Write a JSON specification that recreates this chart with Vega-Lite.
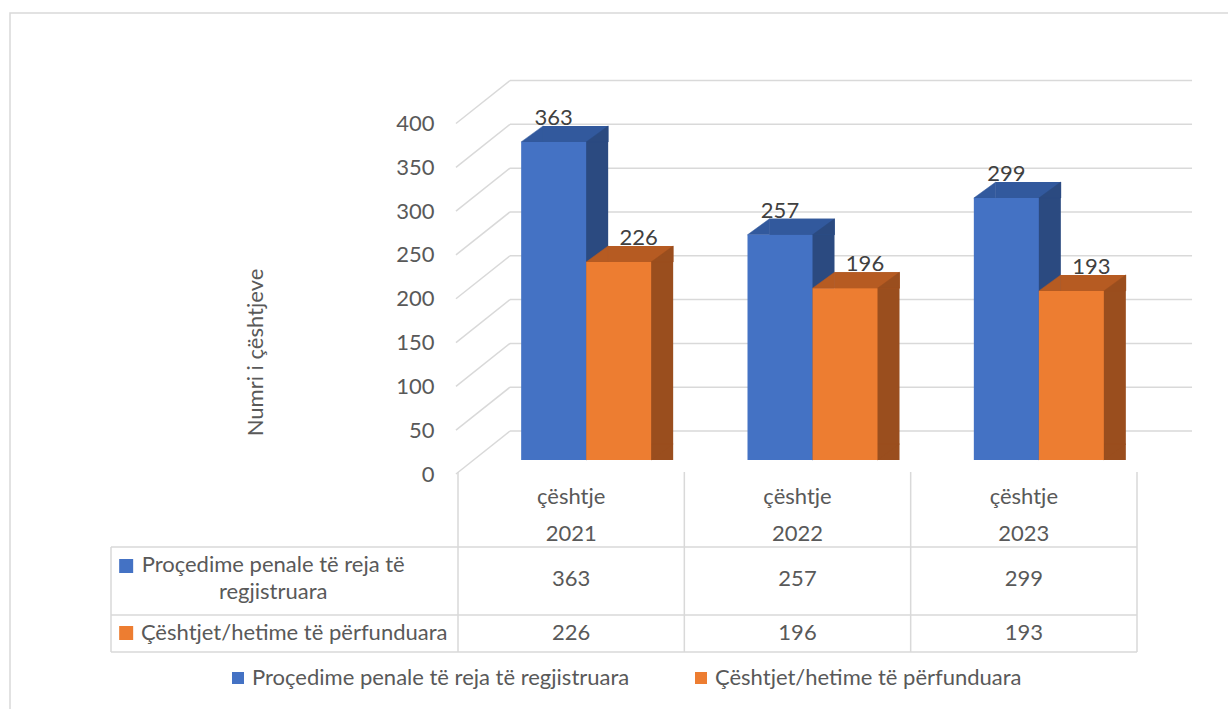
{
  "$schema": "https://vega.github.io/schema/vega-lite/v6.json",
  "width": 1228,
  "height": 720,
  "autosize": {"type": "none"},
  "padding": {"left": 10, "top": 13, "right": 0, "bottom": 0},
  "background": "white",
  "config": {
    "font": "Lato",
    "view": {"stroke": "#D9D9D9", "strokeWidth": 1.5},
    "text": {"font": "Lato", "fontSize": 22, "color": "#595959"}
  },
  "datasets": {
    "bars": [
      {"year": "çështje 2021", "series": "Proçedime penale të reja të regjistruara", "value": 363},
      {"year": "çështje 2021", "series": "Çështjet/hetime të përfunduara", "value": 226},
      {"year": "çështje 2022", "series": "Proçedime penale të reja të regjistruara", "value": 257},
      {"year": "çështje 2022", "series": "Çështjet/hetime të përfunduara", "value": 196},
      {"year": "çështje 2023", "series": "Proçedime penale të reja të regjistruara", "value": 299},
      {"year": "çështje 2023", "series": "Çështjet/hetime të përfunduara", "value": 193}
    ],
    "grid": [{"v": 0}, {"v": 50}, {"v": 100}, {"v": 150}, {"v": 200}, {"v": 250}, {"v": 300}, {"v": 350}, {"v": 400}]
  },
  "resolve": {"scale": {"y": "independent"}},
  "layer": [
    {
      "layer": [
        {
          "data": {"name": "grid"},
          "mark": {"type": "rule", "color": "#D9D9D9", "strokeWidth": 1.5, "xOffset": -61.17, "x2Offset": 168.2, "yOffset": -29},
          "encoding": {
            "x": {"datum": "çështje 2021", "type": "nominal", "axis": null,
                  "scale": {"type": "band", "domain": ["çështje 2021", "çështje 2022", "çështje 2023"], "range": [448, 1127], "paddingInner": 0, "paddingOuter": 0}},
            "x2": {"datum": "çështje 2023"},
            "y": {"field": "v", "type": "quantitative",
                  "scale": {"domain": [0, 400], "range": [447, 96.5], "nice": false, "zero": false},
                  "axis": {"title": "Numri i çështjeve", "offset": -430, "ticks": false, "domain": false, "grid": false,
                           "values": [0, 50, 100, 150, 200, 250, 300, 350, 400],
                           "labelPadding": 6, "labelOffset": 14, "labelFlush": false, "labelOverlap": false,
                           "labelFont": "Lato", "labelFontSize": 22, "labelColor": "#595959",
                           "titleFont": "Lato", "titleFontSize": 22, "titleFontWeight": "normal", "titleColor": "#595959",
                           "titleX": -185, "titleY": 339, "titleAngle": -90, "titleAlign": "center", "titleBaseline": "middle"}}
          }
        },
        {
          "data": {"name": "grid"},
          "mark": {"type": "rule", "color": "#D9D9D9", "strokeWidth": 1.5, "xOffset": -115.2, "x2Offset": -61.17, "yOffset": 14, "y2Offset": -29},
          "encoding": {
            "x": {"datum": "çështje 2021", "type": "nominal", "axis": null},
            "x2": {"datum": "çështje 2021"},
            "y": {"field": "v", "type": "quantitative"},
            "y2": {"field": "v"}
          }
        },
        {
          "data": {"name": "bars"},
          "transform": [{"filter": {"field": "series", "equal": "Proçedime penale të reja të regjistruara"}}],
          "layer": [
            {"mark": {"type": "bar", "width": 65, "xOffset": 4.5, "yOffset": -16, "y2Offset": -16, "color": "#2B4A80"},
             "encoding": {"x": {"field": "year", "type": "nominal", "axis": null}, "y": {"field": "value", "type": "quantitative", "stack": null}}},
            {"mark": {"type": "point", "shape": "M -1 -0.7273 L 1 -0.7273 L -1 0.7273 Z", "size": 484, "filled": true, "opacity": 1, "color": "#2B4A80", "stroke": "#2B4A80", "strokeWidth": 0.5, "xOffset": 26, "yOffset": -8},
             "encoding": {"x": {"field": "year", "type": "nominal", "axis": null}, "y": {"datum": 0, "type": "quantitative"}}},
            {"mark": {"type": "bar", "width": 65, "xOffset": 4.5, "yOffset": -16, "y2Offset": 0, "color": "#32599D"},
             "encoding": {"x": {"field": "year", "type": "nominal", "axis": null}, "y": {"field": "value", "type": "quantitative"}, "y2": {"field": "value"}}},
            {"mark": {"type": "point", "shape": "M -1 0.7273 L 1 -0.7273 L 1 0.7273 Z", "size": 484, "filled": true, "opacity": 1, "color": "#2B4A80", "stroke": "#2B4A80", "strokeWidth": 0.5, "xOffset": 26, "yOffset": -8},
             "encoding": {"x": {"field": "year", "type": "nominal", "axis": null}, "y": {"field": "value", "type": "quantitative"}}},
            {"mark": {"type": "point", "shape": "M -1 0.7273 L 1 -0.7273 L 1 0.7273 Z", "size": 484, "filled": true, "opacity": 1, "color": "#32599D", "stroke": "#32599D", "strokeWidth": 0.5, "xOffset": -39, "yOffset": -8},
             "encoding": {"x": {"field": "year", "type": "nominal", "axis": null}, "y": {"field": "value", "type": "quantitative"}}},
            {"mark": {"type": "bar", "width": 65, "xOffset": -17.5},
             "encoding": {"x": {"field": "year", "type": "nominal", "axis": null}, "y": {"field": "value", "type": "quantitative", "stack": null},
                          "color": {"field": "series", "type": "nominal",
                                    "scale": {"domain": ["Proçedime penale të reja të regjistruara", "Çështjet/hetime të përfunduara"], "range": ["#4472C4", "#ED7D31"]},
                                    "legend": {"orient": "none", "legendX": 217, "legendY": 654, "direction": "horizontal", "title": null,
                                               "symbolType": "square", "symbolSize": 144, "symbolStrokeWidth": 0,
                                               "labelFont": "Lato", "labelFontSize": 22, "labelColor": "#595959", "labelOffset": 3,
                                               "columnPadding": 60, "labelLimit": 600, "padding": 0}}}}
          ]
        },
        {
          "data": {"name": "bars"},
          "transform": [{"filter": {"field": "series", "equal": "Çështjet/hetime të përfunduara"}}],
          "layer": [
            {"mark": {"type": "bar", "width": 65, "xOffset": 69.5, "yOffset": -16, "y2Offset": -16, "color": "#9A4E1E"},
             "encoding": {"x": {"field": "year", "type": "nominal", "axis": null}, "y": {"field": "value", "type": "quantitative", "stack": null}}},
            {"mark": {"type": "point", "shape": "M -1 -0.7273 L 1 -0.7273 L -1 0.7273 Z", "size": 484, "filled": true, "opacity": 1, "color": "#9A4E1E", "stroke": "#9A4E1E", "strokeWidth": 0.5, "xOffset": 91, "yOffset": -8},
             "encoding": {"x": {"field": "year", "type": "nominal", "axis": null}, "y": {"datum": 0, "type": "quantitative"}}},
            {"mark": {"type": "bar", "width": 65, "xOffset": 69.5, "yOffset": -16, "y2Offset": 0, "color": "#B65B22"},
             "encoding": {"x": {"field": "year", "type": "nominal", "axis": null}, "y": {"field": "value", "type": "quantitative"}, "y2": {"field": "value"}}},
            {"mark": {"type": "point", "shape": "M -1 0.7273 L 1 -0.7273 L 1 0.7273 Z", "size": 484, "filled": true, "opacity": 1, "color": "#9A4E1E", "stroke": "#9A4E1E", "strokeWidth": 0.5, "xOffset": 91, "yOffset": -8},
             "encoding": {"x": {"field": "year", "type": "nominal", "axis": null}, "y": {"field": "value", "type": "quantitative"}}},
            {"mark": {"type": "point", "shape": "M -1 0.7273 L 1 -0.7273 L 1 0.7273 Z", "size": 484, "filled": true, "opacity": 1, "color": "#B65B22", "stroke": "#B65B22", "strokeWidth": 0.5, "xOffset": 26, "yOffset": -8},
             "encoding": {"x": {"field": "year", "type": "nominal", "axis": null}, "y": {"field": "value", "type": "quantitative"}}},
            {"mark": {"type": "bar", "width": 65, "xOffset": 47.5},
             "encoding": {"x": {"field": "year", "type": "nominal", "axis": null}, "y": {"field": "value", "type": "quantitative", "stack": null},
                          "color": {"field": "series", "type": "nominal"}}}
          ]
        },
        {
          "data": {"name": "bars"},
          "transform": [{"filter": {"field": "series", "equal": "Proçedime penale të reja të regjistruara"}}],
          "mark": {"type": "text", "xOffset": -17.5, "yOffset": -17, "baseline": "alphabetic", "align": "center", "fontSize": 22, "color": "#404040"},
          "encoding": {"x": {"field": "year", "type": "nominal", "axis": null}, "y": {"field": "value", "type": "quantitative"}, "text": {"field": "value", "type": "quantitative"}}
        },
        {
          "data": {"name": "bars"},
          "transform": [{"filter": {"field": "series", "equal": "Çështjet/hetime të përfunduara"}}],
          "mark": {"type": "text", "xOffset": 67.5, "yOffset": -17, "baseline": "alphabetic", "align": "center", "fontSize": 22, "color": "#404040"},
          "encoding": {"x": {"field": "year", "type": "nominal", "axis": null}, "y": {"field": "value", "type": "quantitative"}, "text": {"field": "value", "type": "quantitative"}}
        }
      ]
    },
    {
      "data": {"name": "bars"},
      "layer": [
        {"mark": {"type": "text", "baseline": "middle", "align": "center", "fontSize": 22, "color": "#595959"},
         "encoding": {"x": {"field": "year", "type": "nominal", "axis": null},
                      "y": {"field": "series", "type": "nominal", "axis": null,
                            "scale": {"type": "band", "domain": ["Proçedime penale të reja të regjistruara", "Çështjet/hetime të përfunduara"], "range": [539, 647], "paddingInner": 0, "paddingOuter": 0}},
                      "text": {"field": "value", "type": "quantitative"}}},
        {"transform": [{"filter": {"field": "series", "equal": "Proçedime penale të reja të regjistruara"}}],
         "mark": {"type": "text", "lineBreak": " ", "lineHeight": 37, "baseline": "middle", "align": "center", "fontSize": 22, "color": "#595959", "yOffset": -82},
         "encoding": {"x": {"field": "year", "type": "nominal", "axis": null},
                      "y": {"datum": "Proçedime penale të reja të regjistruara", "type": "nominal", "axis": null},
                      "text": {"field": "year", "type": "nominal"}}},
        {"transform": [{"aggregate": [{"op": "count", "as": "n"}], "groupby": ["series"]}, {"filter": {"field": "series", "equal": "Proçedime penale të reja të regjistruara"}}],
         "mark": {"type": "text", "lineHeight": 27, "baseline": "middle", "align": "center", "fontSize": 22, "color": "#595959", "xOffset": -298, "yOffset": -14},
         "encoding": {"x": {"datum": "çështje 2021", "type": "nominal", "axis": null},
                      "y": {"field": "series", "type": "nominal", "axis": null},
                      "text": {"value": ["Proçedime penale të reja të", "regjistruara"]}}},
        {"transform": [{"aggregate": [{"op": "count", "as": "n"}], "groupby": ["series"]}, {"filter": {"field": "series", "equal": "Çështjet/hetime të përfunduara"}}],
         "mark": {"type": "text", "baseline": "middle", "align": "center", "fontSize": 22, "color": "#595959", "xOffset": -277},
         "encoding": {"x": {"datum": "çështje 2021", "type": "nominal", "axis": null},
                      "y": {"field": "series", "type": "nominal", "axis": null},
                      "text": {"field": "series", "type": "nominal"}}},
        {"transform": [{"aggregate": [{"op": "count", "as": "n"}], "groupby": ["series"]}, {"filter": {"field": "series", "equal": "Proçedime penale të reja të regjistruara"}}],
         "mark": {"type": "point", "shape": "square", "size": 196, "filled": true, "opacity": 1, "strokeWidth": 0, "xOffset": -445, "yOffset": -13},
         "encoding": {"x": {"datum": "çështje 2021", "type": "nominal", "axis": null},
                      "y": {"field": "series", "type": "nominal", "axis": null},
                      "color": {"field": "series", "type": "nominal"}}},
        {"transform": [{"aggregate": [{"op": "count", "as": "n"}], "groupby": ["series"]}, {"filter": {"field": "series", "equal": "Çështjet/hetime të përfunduara"}}],
         "mark": {"type": "point", "shape": "square", "size": 196, "filled": true, "opacity": 1, "strokeWidth": 0, "xOffset": -445},
         "encoding": {"x": {"datum": "çështje 2021", "type": "nominal", "axis": null},
                      "y": {"field": "series", "type": "nominal", "axis": null},
                      "color": {"field": "series", "type": "nominal"}}},
        {"transform": [{"aggregate": [{"op": "count", "as": "n"}], "groupby": ["year"]}],
         "mark": {"type": "rule", "color": "#D9D9D9", "strokeWidth": 1.5, "xOffset": -113.17, "yOffset": -107, "y2Offset": 19},
         "encoding": {"x": {"field": "year", "type": "nominal", "axis": null},
                      "y": {"datum": "Proçedime penale të reja të regjistruara", "type": "nominal", "axis": null},
                      "y2": {"datum": "Çështjet/hetime të përfunduara"}}},
        {"transform": [{"aggregate": [{"op": "count", "as": "n"}]}],
         "mark": {"type": "rule", "color": "#D9D9D9", "strokeWidth": 1.5, "xOffset": 113.17, "yOffset": -107, "y2Offset": 19},
         "encoding": {"x": {"datum": "çështje 2023", "type": "nominal", "axis": null},
                      "y": {"datum": "Proçedime penale të reja të regjistruara", "type": "nominal", "axis": null},
                      "y2": {"datum": "Çështjet/hetime të përfunduara"}}},
        {"transform": [{"aggregate": [{"op": "count", "as": "n"}]}],
         "mark": {"type": "rule", "color": "#D9D9D9", "strokeWidth": 1.5, "xOffset": -460.17, "yOffset": -32, "y2Offset": 19},
         "encoding": {"x": {"datum": "çështje 2021", "type": "nominal", "axis": null},
                      "y": {"datum": "Proçedime penale të reja të regjistruara", "type": "nominal", "axis": null},
                      "y2": {"datum": "Çështjet/hetime të përfunduara"}}},
        {"transform": [{"aggregate": [{"op": "count", "as": "n"}]}],
         "mark": {"type": "rule", "color": "#D9D9D9", "strokeWidth": 1.5, "xOffset": -460.17, "x2Offset": 113.17, "yOffset": -32},
         "encoding": {"x": {"datum": "çështje 2021", "type": "nominal", "axis": null},
                      "x2": {"datum": "çështje 2023"},
                      "y": {"datum": "Proçedime penale të reja të regjistruara", "type": "nominal", "axis": null}}},
        {"transform": [{"aggregate": [{"op": "count", "as": "n"}]}],
         "mark": {"type": "rule", "color": "#D9D9D9", "strokeWidth": 1.5, "xOffset": -460.17, "x2Offset": 113.17, "yOffset": -18},
         "encoding": {"x": {"datum": "çështje 2021", "type": "nominal", "axis": null},
                      "x2": {"datum": "çështje 2023"},
                      "y": {"datum": "Çështjet/hetime të përfunduara", "type": "nominal", "axis": null}}},
        {"transform": [{"aggregate": [{"op": "count", "as": "n"}]}],
         "mark": {"type": "rule", "color": "#D9D9D9", "strokeWidth": 1.5, "xOffset": -460.17, "x2Offset": 113.17, "yOffset": 19},
         "encoding": {"x": {"datum": "çështje 2021", "type": "nominal", "axis": null},
                      "x2": {"datum": "çështje 2023"},
                      "y": {"datum": "Çështjet/hetime të përfunduara", "type": "nominal", "axis": null}}}
      ]
    }
  ]
}
